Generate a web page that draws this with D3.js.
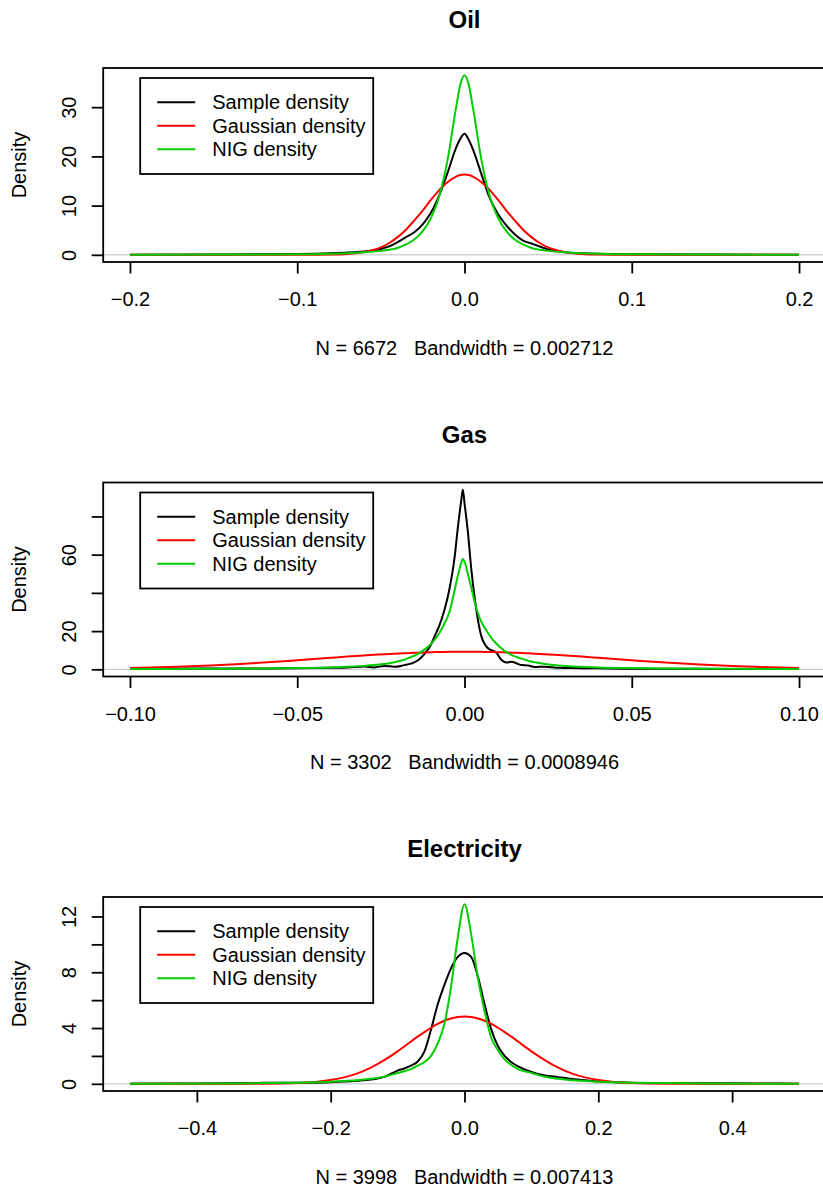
<!DOCTYPE html>
<html lang="en">
<head>
<meta charset="UTF-8">
<title>Oil, Gas and Electricity return densities</title>
<style>
  body { margin: 0; background: #fff; }
  svg text { font-family: "Liberation Sans", Arial, Helvetica, sans-serif; fill: #000; }
</style>
</head>
<body>
<div id="chart"></div>
<script src="https://d3js.org/d3.v7.min.js"></script>
<script>
// ---- data ----
const titles = ["Oil", "Gas", "Electricity"];
const subtitles = [
  "N = 6672   Bandwidth = 0.002712",
  "N = 3302   Bandwidth = 0.0008946",
  "N = 3998   Bandwidth = 0.007413"
];
const seriesNames = ["Sample density", "Gaussian density", "NIG density"];
const seriesColors = ["#000000", "#ff0000", "#00cd00"];

// Oil
const oilRange = [-0.2, 0.2];
const oilX = [-0.2, -0.15, -0.1, -0.08, -0.07, -0.06, -0.05, -0.045, -0.04, -0.035, -0.03, -0.025, -0.02, -0.015, -0.01, -0.005, -0.0025, 0,
  0.0025, 0.005, 0.01, 0.015, 0.02, 0.025, 0.03, 0.035, 0.04, 0.045, 0.05, 0.06, 0.07, 0.08, 0.1, 0.15, 0.2];
const oilSample = [0.02, 0.05, 0.15, 0.3, 0.45, 0.7, 1.2, 1.7, 2.6, 3.6, 4.6, 6.2, 8.6, 12.2, 16.8, 21.8, 23.6, 24.6,
  23.4, 21.5, 16.5, 11.6, 8.3, 6.0, 4.2, 2.9, 2.3, 1.7, 1.1, 0.5, 0.3, 0.2, 0.12, 0.05, 0.02];
const oilGaussian = [0, 0, 0, 0.04, 0.16, 0.55, 1.5, 2.4, 3.6, 5.1, 7.0, 9.0, 11.2, 13.2, 14.8, 15.9, 16.2, 16.3,
  16.2, 15.9, 14.8, 13.2, 11.2, 9.0, 7.0, 5.1, 3.6, 2.4, 1.5, 0.55, 0.16, 0.04, 0, 0, 0];
const oilNig = [0.02, 0.05, 0.12, 0.22, 0.32, 0.5, 0.8, 1.05, 1.4, 2.1, 3.1, 4.8, 7.5, 12.0, 19.5, 30.0, 34.6, 36.5,
  34.6, 30.0, 19.5, 12.0, 7.5, 4.8, 3.1, 2.1, 1.4, 1.05, 0.8, 0.5, 0.32, 0.22, 0.12, 0.05, 0.02];
const oilXTicks = [-0.2, -0.1, 0, 0.1, 0.2];
const oilXLabels = ["\u22120.2", "\u22120.1", "0.0", "0.1", "0.2"];
const oilYTicks = [0, 10, 20, 30];
const oilYLabels = ["0", "10", "20", "30"];

// Gas
const gasRange = [-0.1, 0.1];
const gasX = [-0.1, -0.08, -0.06, -0.05, -0.04, -0.035, -0.03, -0.027, -0.024, -0.021, -0.018, -0.016, -0.014, -0.012, -0.01, -0.009,
  -0.0075, -0.006, -0.0045, -0.003, -0.002, -0.001, -0.0005, 0, 0.001, 0.002, 0.003, 0.004, 0.005, 0.0065, 0.008, 0.0095,
  0.011, 0.0125, 0.014, 0.0155, 0.017, 0.019, 0.021, 0.024, 0.028, 0.035, 0.04, 0.05, 0.06, 0.08, 0.1];
const gasSample = [0.3, 0.4, 0.4, 0.6, 0.8, 1.0, 1.5, 1.0, 1.8, 1.3, 2.2, 3.0, 4.6, 8.0, 13, 17,
  23, 31, 42, 58, 74, 88, 94, 87, 72, 53, 38, 26, 17.5, 12, 10, 8.8,
  5.0, 3.6, 3.9, 3.2, 2.2, 2.0, 1.2, 1.4, 0.8, 0.6, 0.5, 0.3, 0.3, 0.2, 0.1];
const gasGaussian = [0.65, 1.68, 3.54, 4.74, 6.0, 6.65, 7.25, 7.58, 7.9, 8.18, 8.43, 8.59, 8.73, 8.86, 8.96, 9.0,
  9.06, 9.11, 9.15, 9.18, 9.19, 9.2, 9.2, 9.2, 9.2, 9.19, 9.18, 9.16, 9.14, 9.1, 9.04, 8.98,
  8.91, 8.83, 8.73, 8.63, 8.52, 8.36, 8.18, 7.9, 7.47, 6.65, 6.0, 4.74, 3.54, 1.68, 0.65];
const gasNig = [0.15, 0.25, 0.45, 0.65, 1.0, 1.3, 1.8, 2.2, 2.8, 3.7, 5.0, 6.4, 8.0, 10.3, 13.3, 15.3,
  19, 24, 30, 41, 49, 55.5, 57.7, 56.5, 50, 43, 35.5, 29.5, 25, 20.5, 16.5, 13.5,
  11.0, 9.0, 7.6, 6.5, 5.6, 4.5, 3.7, 2.8, 2.0, 1.3, 1.0, 0.65, 0.45, 0.25, 0.15];
const gasXTicks = [-0.1, -0.05, 0, 0.05, 0.1];
const gasXLabels = ["\u22120.10", "\u22120.05", "0.00", "0.05", "0.10"];
const gasYTicks = [0, 20, 40, 60, 80];
const gasYLabels = ["0", "20", "", "60", ""];

// Electricity
const elecRange = [-0.5, 0.5];
const elecX = [-0.5, -0.4, -0.3, -0.25, -0.2, -0.18, -0.16, -0.14, -0.12, -0.1, -0.09, -0.08, -0.07, -0.06, -0.05, -0.04, -0.03, -0.02, -0.01, 0,
  0.01, 0.02, 0.03, 0.04, 0.05, 0.06, 0.07, 0.08, 0.1, 0.12, 0.14, 0.16, 0.18, 0.2, 0.25, 0.3, 0.4, 0.5];
const elecSample = [0.0, 0.03, 0.07, 0.08, 0.12, 0.16, 0.22, 0.3, 0.5, 0.95, 1.1, 1.3, 1.6, 2.3, 3.9, 5.7, 7.1, 8.3, 9.1, 9.38,
  9.1, 7.7, 5.7, 3.9, 2.7, 2.0, 1.55, 1.25, 0.85, 0.6, 0.48, 0.35, 0.26, 0.16, 0.08, 0.05, 0.04, 0.0];
const elecGaussian = [0, 0, 0.01, 0.05, 0.27, 0.46, 0.75, 1.16, 1.7, 2.33, 2.68, 3.03, 3.38, 3.71, 4.02, 4.29, 4.52, 4.68, 4.79, 4.82,
  4.79, 4.68, 4.52, 4.29, 4.02, 3.71, 3.38, 3.03, 2.33, 1.7, 1.16, 0.75, 0.46, 0.27, 0.05, 0.01, 0, 0];
const elecNig = [0.01, 0.02, 0.05, 0.08, 0.15, 0.2, 0.26, 0.36, 0.5, 0.78, 0.9, 1.05, 1.3, 1.55, 2.0, 2.9, 4.3, 7.0, 10.5, 12.88,
  10.7, 7.6, 5.2, 3.3, 2.4, 1.75, 1.35, 1.05, 0.78, 0.5, 0.36, 0.26, 0.2, 0.15, 0.08, 0.05, 0.02, 0.01];
const elecXTicks = [-0.4, -0.2, 0, 0.2, 0.4];
const elecXLabels = ["\u22120.4", "\u22120.2", "0.0", "0.2", "0.4"];
const elecYTicks = [0, 2, 4, 6, 8, 10, 12];
const elecYLabels = ["0", "", "4", "", "8", "", "12"];

// ---- layout ----
const width = 823, height = 1191;
const boxLeft = 103.2, boxRight = 825.8, boxH = 194;
const boxTops = [68, 482.5, 897];
const lw = 1.8;

const panels = [
  { x: oilX, lines: [oilSample, oilGaussian, oilNig], range: oilRange,
    xTicks: oilXTicks, xLabels: oilXLabels, yTicks: oilYTicks, yLabels: oilYLabels },
  { x: gasX, lines: [gasSample, gasGaussian, gasNig], range: gasRange,
    xTicks: gasXTicks, xLabels: gasXLabels, yTicks: gasYTicks, yLabels: gasYLabels },
  { x: elecX, lines: [elecSample, elecGaussian, elecNig], range: elecRange,
    xTicks: elecXTicks, xLabels: elecXLabels, yTicks: elecYTicks, yLabels: elecYLabels }
];

const svg = d3.select("#chart").append("svg")
    .attr("width", width)
    .attr("height", height)
    .style("background", "#fff");

panels.forEach((p, k) => {
    const top = boxTops[k], bottom = top + boxH;
    const g = svg.append("g");

    // R style 4% padding on both axes
    const pad = 0.04 * (p.range[1] - p.range[0]);
    const x = d3.scaleLinear()
        .domain([p.range[0] - pad, p.range[1] + pad])
        .range([boxLeft, boxRight]);
    const ymax = d3.max(p.lines.flat());
    const y = d3.scaleLinear()
        .domain([-0.04 * ymax, 1.04 * ymax])
        .range([bottom, top]);

    const clipId = "clip" + k;
    svg.append("clipPath").attr("id", clipId)
      .append("rect")
        .attr("x", boxLeft).attr("y", top)
        .attr("width", boxRight - boxLeft).attr("height", boxH);

    const plot = g.append("g").attr("clip-path", `url(#${clipId})`);

    // zero line
    plot.append("line")
        .attr("x1", boxLeft).attr("x2", boxRight)
        .attr("y1", y(0)).attr("y2", y(0))
        .attr("stroke", "#bebebe")
        .attr("stroke-width", 1);

    const line = d3.line()
        .x((d, i) => x(p.x[i]))
        .y(d => y(d))
        .curve(d3.curveMonotoneX);

    p.lines.forEach((vals, j) => {
        plot.append("path")
            .datum(vals)
            .attr("d", line)
            .attr("fill", "none")
            .attr("stroke", seriesColors[j])
            .attr("stroke-width", 2)
            .attr("stroke-linejoin", "round");
    });

    // frame
    g.append("rect")
        .attr("x", boxLeft).attr("y", top)
        .attr("width", boxRight - boxLeft).attr("height", boxH)
        .attr("fill", "none")
        .attr("stroke", "#000")
        .attr("stroke-width", lw);

    // x axis
    const gx = g.append("g")
        .attr("transform", `translate(0,${bottom})`)
        .call(d3.axisBottom(x)
            .tickValues(p.xTicks)
            .tickFormat((d, i) => p.xLabels[i])
            .tickSize(11.5)
            .tickSizeOuter(0));
    gx.select(".domain").remove();
    gx.attr("font-size", 20).attr("font-family", null);
    gx.selectAll(".tick line").attr("stroke", "#000").attr("stroke-width", lw);
    gx.selectAll(".tick text").attr("y", 44).attr("dy", null);

    // y axis, labels turned like R's las = 0
    const gy = g.append("g")
        .attr("transform", `translate(${boxLeft},0)`)
        .call(d3.axisLeft(y)
            .tickValues(p.yTicks)
            .tickFormat((d, i) => p.yLabels[i])
            .tickSize(11.5)
            .tickSizeOuter(0));
    gy.select(".domain").remove();
    gy.attr("font-size", 20).attr("font-family", null);
    gy.selectAll(".tick line").attr("stroke", "#000").attr("stroke-width", lw);
    gy.selectAll(".tick text")
        .attr("x", null).attr("dy", null)
        .attr("text-anchor", "middle")
        .attr("transform", `translate(${76 - boxLeft},0) rotate(-90)`);

    // titles
    g.append("text")
        .attr("x", (boxLeft + boxRight) / 2)
        .attr("y", top - 39.6)
        .attr("text-anchor", "middle")
        .attr("font-size", 24)
        .attr("font-weight", "bold")
        .text(titles[k]);

    g.append("text")
        .attr("x", (boxLeft + boxRight) / 2)
        .attr("y", bottom + 92.5)
        .attr("text-anchor", "middle")
        .attr("font-size", 20)
        .style("white-space", "pre")
        .text(subtitles[k]);

    g.append("text")
        .attr("transform", `translate(26,${(top + bottom) / 2}) rotate(-90)`)
        .attr("text-anchor", "middle")
        .attr("font-size", 20)
        .text("Density");

    // legend
    const lg = g.append("g").attr("transform", `translate(${boxLeft + 37},${top + 10})`);
    lg.append("rect")
        .attr("width", 233).attr("height", 96)
        .attr("fill", "#fff")
        .attr("stroke", "#000")
        .attr("stroke-width", lw);
    seriesNames.forEach((name, j) => {
        const ly = 24.3 + j * 23.5;
        lg.append("line")
            .attr("x1", 17).attr("x2", 55)
            .attr("y1", ly).attr("y2", ly)
            .attr("stroke", seriesColors[j])
            .attr("stroke-width", 2);
        lg.append("text")
            .attr("x", 72).attr("y", ly + 6.8)
            .attr("font-size", 20)
            .text(name);
    });
});
</script>
</body>
</html>
